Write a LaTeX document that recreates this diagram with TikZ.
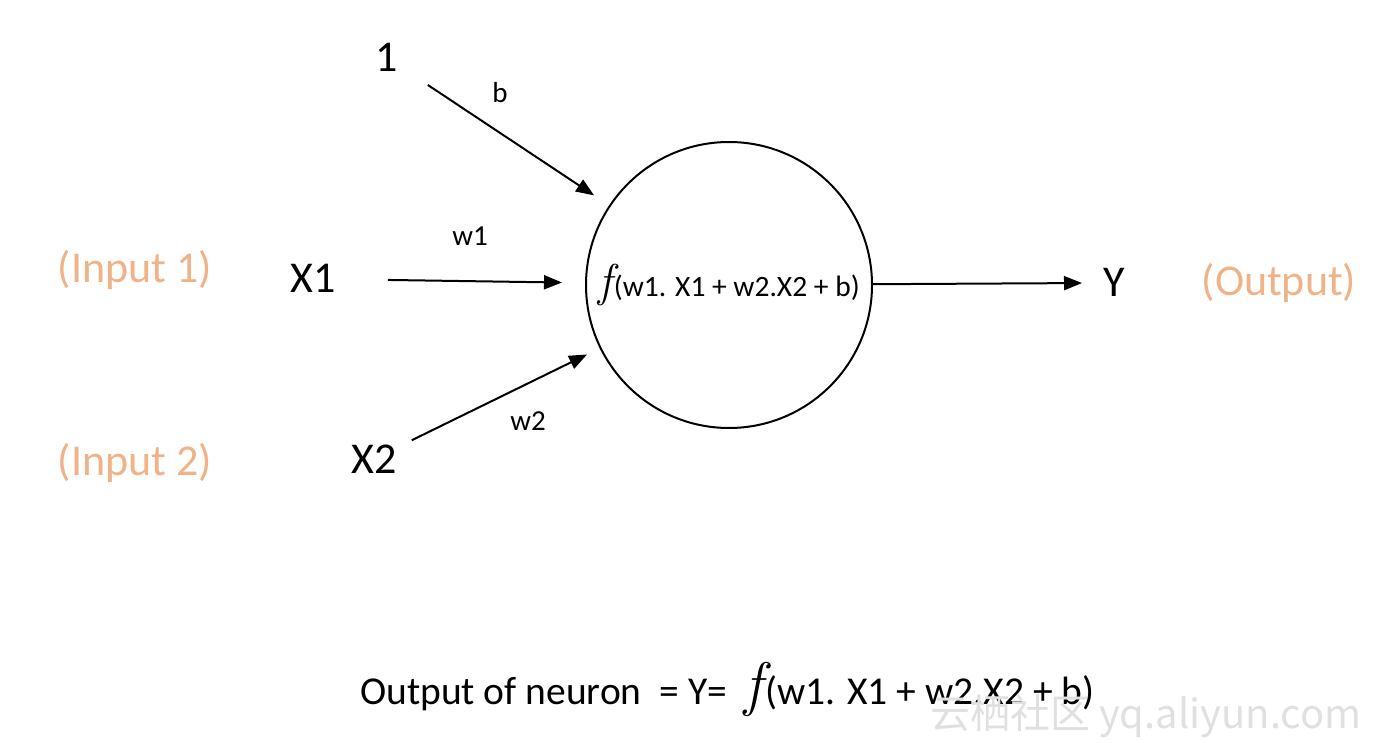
\documentclass[tikz,border=0pt]{standalone}
\usepackage{fontspec}
\setmainfont{Carlito}
\newfontfamily\wmfont{Noto Sans CJK SC}
\newfontfamily\lmfont{Latin Modern Roman}
\usetikzlibrary{arrows.meta}
\definecolor{inorange}{RGB}{240,178,135}
\newcommand{\bigf}[1]{{\lmfont\itshape\fontsize{#1}{#1}\selectfont f\kern0.04em}}
\begin{document}
\begin{tikzpicture}[x=1pt,y=-1pt,
  lbl/.style={inner sep=0pt, anchor=base, font=\fontsize{44}{50}\selectfont},
  wlbl/.style={inner sep=0pt, anchor=base, font=\fontsize{29}{34}\selectfont},
  note/.style={inner sep=0pt, anchor=base, text=inorange, font=\fontsize{44}{50}\selectfont},
  arr/.style={line width=2pt, -{Triangle[length=18pt,width=14pt]}},
  neuronst/.style={circle, draw, line width=2pt, minimum size=286pt, inner sep=0pt, font=\fontsize{29.5}{34}\selectfont}]
\useasboundingbox (0,0) rectangle (1400,743);
\node[neuronst] (neuron) at (729,285) {\bigf{46}(w1. X1 + w2.X2 + b)};
\node[lbl] (one) at (387,72) {1};
\node[lbl] (x1) at (313,293) {X1};
\node[lbl] (x2) at (374,473) {X2};
\node[lbl] (y) at (1114,297) {Y};
\node[note] (in1) at (135,283) {(Input 1)};
\node[note] (in2) at (135,475) {(Input 2)};
\node[note] (out) at (1279,295) {(Output)};
\node[wlbl] (lb) at (500,103) {b};
\node[wlbl] (lw1) at (470,246) {w1};
\node[wlbl] (lw2) at (528,430) {w2};
\draw[arr, shorten <=49pt, shorten >=18pt] (one.center) -- (neuron);
\draw[arr, shorten <=75pt, shorten >=23pt] (x1.center) -- (neuron);
\draw[arr, shorten <=42pt, shorten >=14pt] (x2.center) -- (neuron);
\draw[arr, shorten >=32pt] (neuron) -- (y.center);
\node[inner sep=0pt, anchor=base west, font=\fontsize{39.5}{46}\selectfont] (formula) at (360,704)
  {Output of neuron\ \ = Y=\ \ \bigf{60}(w1. X1 + w2.X2 + b)};
\node[inner sep=0pt, anchor=base west, text=black!12, font=\wmfont\fontsize{40}{46}\selectfont] (wm) at (930,728)
  {云栖社区 yq.aliyun.com};
\end{tikzpicture}
\end{document}
